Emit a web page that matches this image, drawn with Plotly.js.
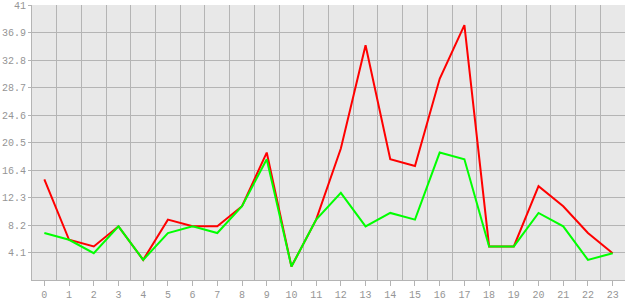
<!DOCTYPE html>
<html>
<head>
<meta charset="utf-8">
<script src="https://cdn.plot.ly/plotly-3.0.1.min.js"></script>
<style>
html,body{margin:0;padding:0;background:#fff;}
#chart{width:630px;height:300px;}
</style>
</head>
<body>
<div id="chart"></div>
<script>
const categories = [0,1,2,3,4,5,6,7,8,9,10,11,12,13,14,15,16,17,18,19,20,21,22,23];
const redValues = [15,6,5,8,3,9,8,8,11,19,2,9,19.6,35,18,17,30,38,5,5,14,11,7,4];
const greenValues = [7,6,4,8,3,7,8,7,11,18,2,9,13,8,10,9,19,18,5,5,10,8,3,4];
const yTickVals = [4.1,8.2,12.3,16.4,20.5,24.6,28.7,32.8,36.9,41];
const yTickText = ["4.1","8.2","12.3","16.4","20.5","24.6","28.7","32.8","36.9","41"];

const gridColor = "#b4b4b4";
const labelFont = {family: "Liberation Mono, DejaVu Sans Mono, monospace", size: 10, color: "#959595"};

const traces = [
  {x: categories, y: redValues, type: "scatter", mode: "lines",
   line: {color: "#ff0000", width: 2}, hoverinfo: "skip"},
  {x: categories, y: greenValues, type: "scatter", mode: "lines",
   line: {color: "#00ff00", width: 2}, hoverinfo: "skip"}
];

const layout = {
  width: 630, height: 300,
  margin: {l: 32, r: 5, t: 5, b: 20, pad: 0},
  paper_bgcolor: "#ffffff",
  plot_bgcolor: "#e8e8e8",
  showlegend: false,
  font: labelFont,
  xaxis: {
    type: "linear",
    range: [-0.5, 23.5],
    tickmode: "array",
    tickvals: categories,
    ticktext: categories.map(String),
    showgrid: false,
    zeroline: false,
    showline: true, linecolor: gridColor, linewidth: 1,
    ticks: "outside", ticklen: 5, tickcolor: gridColor, tickwidth: 1,
    tickfont: labelFont,
    minor: {tick0: 0.5, dtick: 1, showgrid: true, gridcolor: gridColor, gridwidth: 1, ticks: ""}
  },
  yaxis: {
    range: [0, 41],
    tickmode: "array",
    tickvals: yTickVals,
    ticktext: yTickText,
    showgrid: true, gridcolor: gridColor, gridwidth: 1,
    zeroline: false,
    showline: true, linecolor: gridColor, linewidth: 1,
    ticks: "outside", ticklen: 3, tickcolor: gridColor, tickwidth: 1,
    tickfont: labelFont
  }
};

Plotly.newPlot("chart", traces, layout, {staticPlot: true, displayModeBar: false});
</script>
</body>
</html>
